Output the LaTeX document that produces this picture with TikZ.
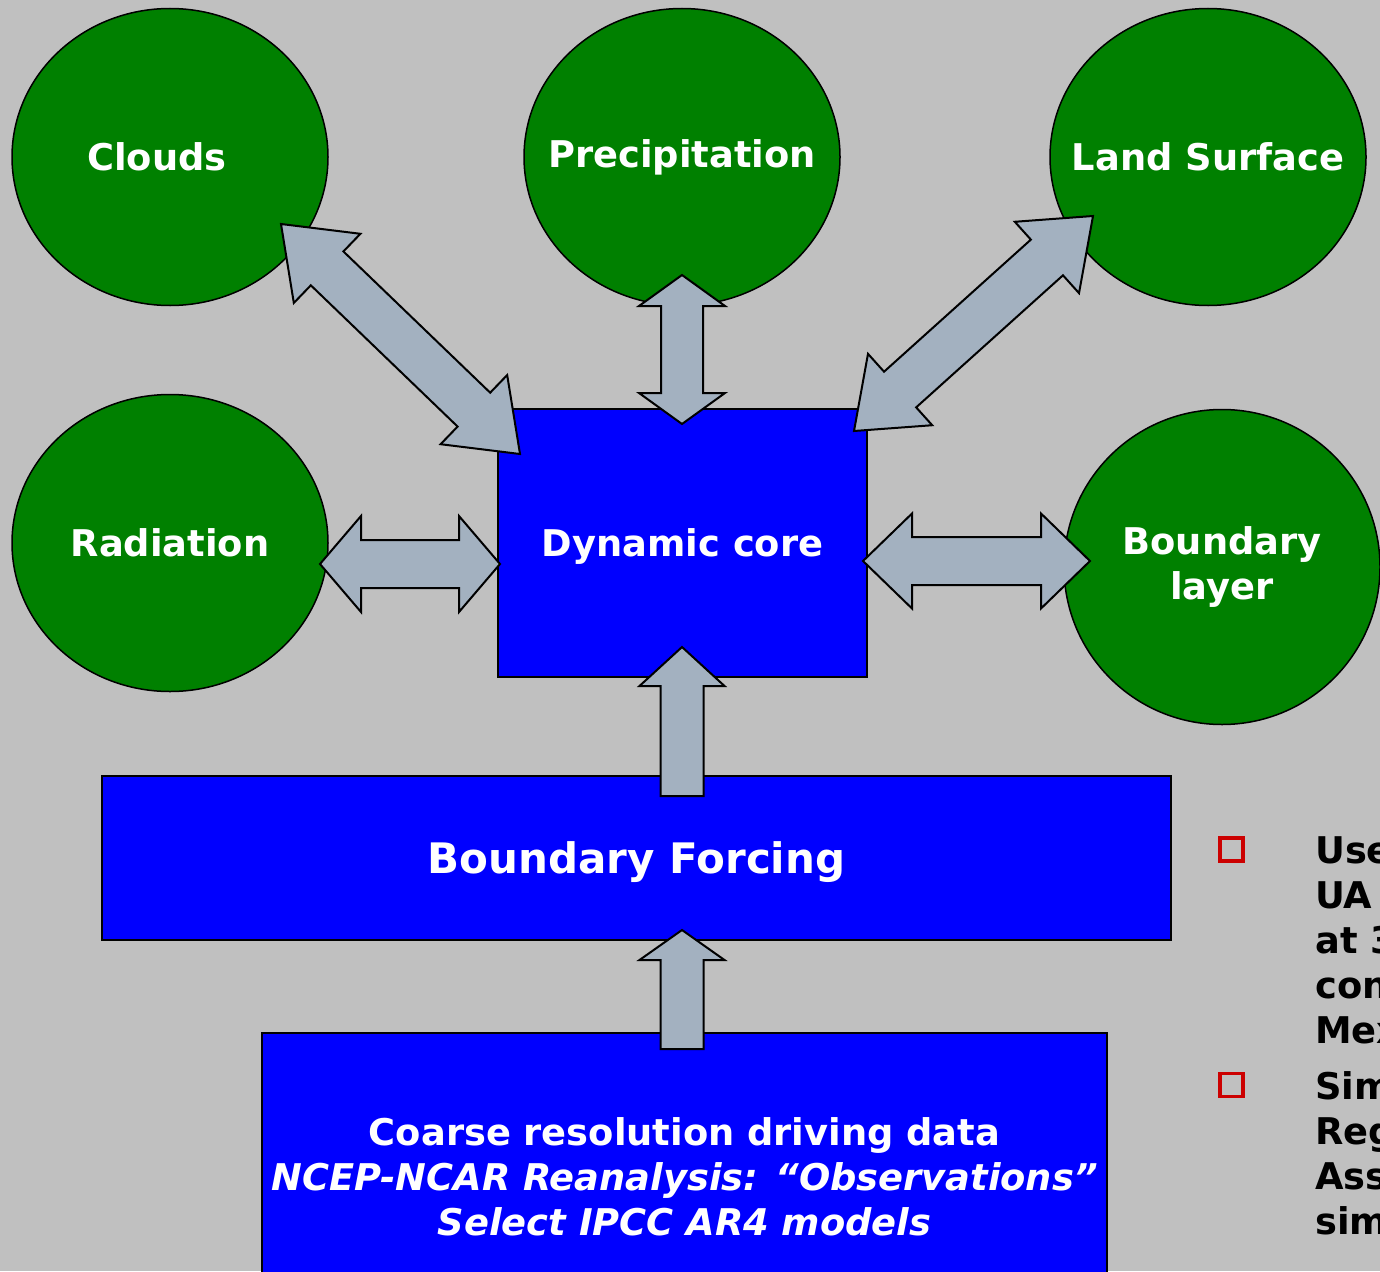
\documentclass[tikz,border=0pt]{standalone}
\usepackage{fontspec}
\setmainfont{DejaVu Sans}
\usetikzlibrary{calc,shapes.geometric}

\definecolor{bggray}{HTML}{C0C0C0}
\definecolor{blobgreen}{HTML}{008000}
\definecolor{boxblue}{HTML}{0000FF}
\definecolor{arrowgray}{HTML}{A3B1C0}
\definecolor{bulletred}{HTML}{CC0000}

% block arrow with two heads: tip, tip, head length, head half width, shaft half width
\newcommand{\dblarrow}[5]{%
  \draw[blockarrow] (#1)
    -- ($(#1)!#3!(#2)!#4!90:(#2)$) -- ($(#1)!#3!(#2)!#5!90:(#2)$)
    -- ($(#2)!#3!(#1)!#5!-90:(#1)$) -- ($(#2)!#3!(#1)!#4!-90:(#1)$)
    -- (#2)
    -- ($(#2)!#3!(#1)!#4!90:(#1)$) -- ($(#2)!#3!(#1)!#5!90:(#1)$)
    -- ($(#1)!#3!(#2)!#5!-90:(#2)$) -- ($(#1)!#3!(#2)!#4!-90:(#2)$)
    -- cycle;}
% block arrow with one head: tail, tip, head length, head half width, shaft half width
\newcommand{\sglarrow}[5]{%
  \draw[blockarrow] (#2)
    -- ($(#2)!#3!(#1)!#4!90:(#1)$) -- ($(#2)!#3!(#1)!#5!90:(#1)$)
    -- ($(#1)!#5!-90:(#2)$) -- ($(#1)!#5!90:(#2)$)
    -- ($(#2)!#3!(#1)!#5!-90:(#1)$) -- ($(#2)!#3!(#1)!#4!-90:(#1)$)
    -- cycle;}
% text that does not widen the ellipse round it
\newcommand{\thin}[1]{\makebox[0pt]{#1}}

\begin{document}
\begin{tikzpicture}[x=1pt,y=-1pt,
        lbl/.style={text=white,font=\fontsize{36.8}{45}\selectfont\bfseries,align=center},
        blob/.style={lbl,ellipse,draw,fill=blobgreen,line width=1.5pt,
          minimum width=316pt,minimum height=297pt,inner sep=0pt},
        box/.style={lbl,rectangle,draw,fill=boxblue,line width=2pt,inner sep=0pt},
        blockarrow/.style={draw,fill=arrowgray,line width=2pt},
        sq/.style={draw=bulletred,line width=3.5pt,minimum size=23pt,inner sep=0pt},
        side/.style={font=\fontsize{36.8}{45}\selectfont\bfseries,align=left,
          anchor=north west,inner sep=0pt}]
      \useasboundingbox (0,0) rectangle (1380,1271);
      \clip (0,0) rectangle (1380,1271);
      \fill[bggray] (0,0) rectangle (1380,1271);

      \node[blob] (clouds) at (170,157) {\thin{Clouds}\hspace*{26pt}};
      \node[blob] (precip) at (682,157) {\thin{Precipitation}};
      \node[blob] (land) at (1208,157) {\thin{Land Surface}};
      \node[blob] (radiation) at (170,543) {\thin{Radiation}};
      \node[blob,minimum height=315pt] (blayer) at (1222,567) {\thin{Boundary}\\\thin{layer}};

      \node[box,minimum width=369pt,minimum height=268pt,text depth=0pt] (core) at (682.5,543) {Dynamic core};
      \node[box,minimum width=1069pt,minimum height=164pt,text depth=0pt,
        font=\fontsize{42}{50}\selectfont\bfseries] (forcing) at (636.5,858) {Boundary Forcing};
      \node[box,minimum width=845pt,minimum height=288pt] (coarse) at (684.5,1177)
        {Coarse resolution driving data\\
         {\itshape NCEP-NCAR Reanalysis: “Observations”}\\
         {\itshape Select IPCC AR4 models}};

      \coordinate (cl-a) at (281,224);   \coordinate (cl-b) at (520,454);
      \coordinate (pr-a) at (682,275);   \coordinate (pr-b) at (682,424);
      \coordinate (ls-a) at (1093,216);  \coordinate (ls-b) at (854,431);
      \coordinate (ra-a) at (320,564);   \coordinate (ra-b) at (500,564);
      \coordinate (bl-a) at (863,561);   \coordinate (bl-b) at (1090,561);
      \coordinate (bf-tail) at (682,796); \coordinate (bf-tip) at (682,647);
      \coordinate (cd-tail) at (682,1049); \coordinate (cd-tip) at (682,930);

      \dblarrow{cl-a}{cl-b}{64pt}{48pt}{23.5pt}
      \dblarrow{pr-a}{pr-b}{31pt}{43pt}{21pt}
      \dblarrow{ls-a}{ls-b}{62pt}{48pt}{24pt}
      \dblarrow{ra-a}{ra-b}{41pt}{48pt}{24pt}
      \dblarrow{bl-a}{bl-b}{49pt}{47.5pt}{24pt}
      \sglarrow{bf-tail}{bf-tip}{39pt}{42.5pt}{21.5pt}
      \sglarrow{cd-tail}{cd-tip}{30pt}{42.5pt}{21.5pt}

      \node[sq] (bul1) at (1231.5,849.5) {};
      \node[side] (item1) at (1315,836) {Use\\UA\\at 3\\con\\Mex};
      \node[sq] (bul2) at (1231.5,1085) {};
      \node[side] (item2) at (1315,1071) {Sim\\Reg\\Ass\\sim};
    \end{tikzpicture}
\end{document}
